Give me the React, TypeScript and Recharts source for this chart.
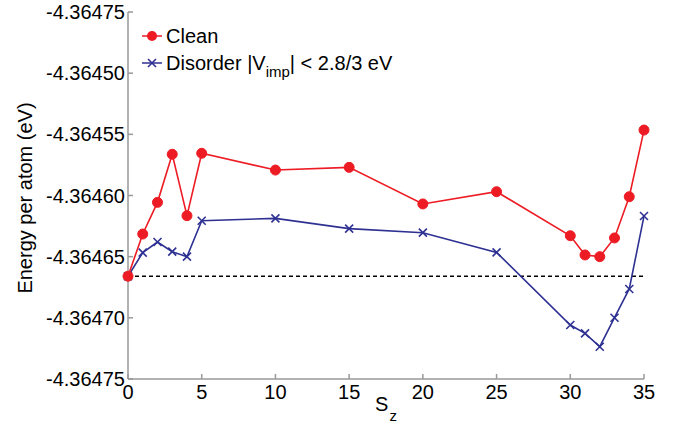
import { LineChart, Line, XAxis, YAxis, ReferenceLine, Label } from "recharts";

const sz = [0, 1, 2, 3, 4, 5, 10, 15, 20, 25, 30, 31, 32, 33, 34, 35];
const clean = [
  -4.364666, -4.3646315, -4.3646056, -4.3645663, -4.3646165, -4.3645655, -4.3645792, -4.364577,
  -4.3646069, -4.3645969, -4.3646329, -4.3646486, -4.36465, -4.3646347, -4.364601, -4.3645465,
];
const disorder = [
  -4.364666, -4.3646467, -4.364638, -4.3646459, -4.36465, -4.3646206, -4.3646187, -4.3646271,
  -4.3646304, -4.3646465, -4.3647059, -4.3647127, -4.3647236, -4.3646999, -4.3646764, -4.3646168,
];
const xTicks = [0, 5, 10, 15, 20, 25, 30, 35];
const yTicks = [-4.36475, -4.3647, -4.36465, -4.3646, -4.36455, -4.3645, -4.36445];
// the top label really reads -4.36475 in the original figure
const yTickLabels = ["-4.36475", "-4.36470", "-4.36465", "-4.36460", "-4.36455", "-4.36450", "-4.36475"];
const groundState = -4.364666;

const RED = "#ed1c24";
const BLUE = "#2e3192";
const FONT = "'Liberation Sans', Arial, Helvetica, sans-serif";

const data = sz.map((s, i) => ({ sz: s, clean: clean[i], disorder: disorder[i] }));

function yLabel(v: number) {
  let best = 0;
  yTicks.forEach((t, i) => {
    if (Math.abs(t - v) < Math.abs(yTicks[best] - v)) best = i;
  });
  return yTickLabels[best];
}

function Cross(props: any) {
  const { cx, cy } = props;
  if (cx == null || cy == null) return null;
  const d = 4;
  return (
    <path
      d={`M${cx - d},${cy - d}L${cx + d},${cy + d}M${cx - d},${cy + d}L${cx + d},${cy - d}`}
      stroke={BLUE}
      strokeWidth={1.6}
      fill="none"
    />
  );
}

function LegendBox() {
  const row = { display: "flex", alignItems: "center", height: 27 } as const;
  return (
    <div
      style={{
        position: "absolute",
        left: 140,
        top: 22,
        fontFamily: FONT,
        fontSize: 20,
        color: "#000",
        lineHeight: 1,
        whiteSpace: "nowrap",
      }}
    >
      <div style={row}>
        <svg width={24} height={14}>
          <line x1={2} y1={7} x2={22} y2={7} stroke={RED} strokeWidth={1.5} />
          <circle cx={12} cy={7} r={5} fill={RED} />
        </svg>
        <span style={{ marginLeft: 2 }}>Clean</span>
      </div>
      <div style={row}>
        <svg width={24} height={14}>
          <line x1={2} y1={7} x2={22} y2={7} stroke={BLUE} strokeWidth={1.5} />
          <path d="M8,3L16,11M8,11L16,3" stroke={BLUE} strokeWidth={1.6} />
        </svg>
        <span style={{ marginLeft: 2 }}>
          Disorder |V<span style={{ fontSize: 15, position: "relative", top: 7 }}>imp</span>| &lt; 2.8/3 eV
        </span>
      </div>
    </div>
  );
}

export default function App() {
  const tickStyle = { fontSize: 20, fill: "#000", fontFamily: FONT };
  return (
    <div style={{ position: "absolute", left: 0, top: 0, width: 681, height: 426, background: "#fff" }}>
      <LineChart width={681} height={426} data={data} margin={{ top: 12, right: 37, bottom: 0, left: 0 }}>
        <XAxis
          xAxisId="b"
          dataKey="sz"
          type="number"
          domain={[0, 35]}
          ticks={xTicks}
          height={47}
          stroke="#999"
          strokeWidth={1.5}
          tickSize={-5}
          tickMargin={11}
          tick={tickStyle}
          interval={0}
        >
          <Label
            content={() => (
              <text x={386} y={411} textAnchor="middle" fontFamily={FONT} fontSize={20} fill="#000">
                S
                <tspan dx={1} dy={10} fontSize={15}>
                  z
                </tspan>
              </text>
            )}
          />
        </XAxis>
        <XAxis
          xAxisId="t"
          orientation="top"
          dataKey="sz"
          type="number"
          domain={[0, 35]}
          ticks={xTicks}
          height={0}
          stroke="#999"
          strokeWidth={1.5}
          tickSize={-5}
          tick={false}
        />
        <YAxis
          yAxisId="l"
          type="number"
          domain={[-4.36475, -4.36445]}
          ticks={yTicks}
          allowDataOverflow
          width={128}
          stroke="#999"
          strokeWidth={1.5}
          tickSize={-5}
          tickMargin={8}
          tick={tickStyle}
          tickFormatter={yLabel}
          interval={0}
        >
          <Label
            content={() => (
              <text
                x={25}
                y={198}
                transform="rotate(-90 25 198)"
                textAnchor="middle"
                dominantBaseline="central"
                fontFamily={FONT}
                fontSize={20}
                fill="#000"
              >
                Energy per atom (eV)
              </text>
            )}
          />
        </YAxis>
        <YAxis
          yAxisId="r"
          orientation="right"
          type="number"
          domain={[-4.36475, -4.36445]}
          ticks={yTicks}
          allowDataOverflow
          width={0}
          stroke="#999"
          strokeWidth={1.5}
          tickSize={-5}
          tick={false}
        />
        <ReferenceLine
          xAxisId="b"
          yAxisId="l"
          y={groundState}
          stroke="#000"
          strokeWidth={1.3}
          strokeDasharray="4 3"
        />
        <Line
          xAxisId="b"
          yAxisId="l"
          dataKey="disorder"
          type="linear"
          stroke={BLUE}
          strokeWidth={1.6}
          dot={<Cross />}
          activeDot={false}
          isAnimationActive={false}
        />
        <Line
          xAxisId="b"
          yAxisId="l"
          dataKey="clean"
          type="linear"
          stroke={RED}
          strokeWidth={1.6}
          dot={{ r: 5, fill: RED, stroke: RED, strokeWidth: 1 }}
          activeDot={false}
          isAnimationActive={false}
        />
      </LineChart>
      <LegendBox />
    </div>
  );
}
